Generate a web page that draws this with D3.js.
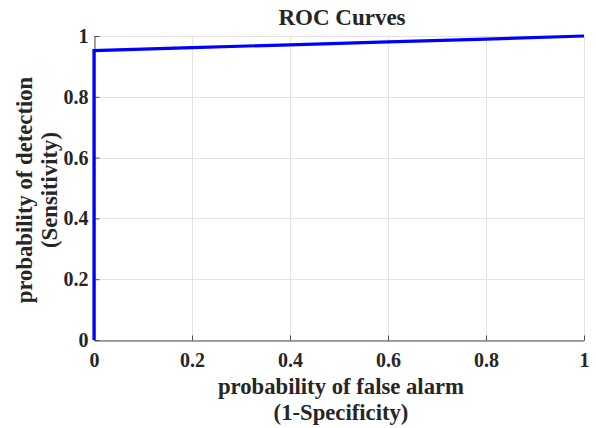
<!DOCTYPE html>
<html>
<head>
<meta charset="utf-8">
<script src="https://cdn.jsdelivr.net/npm/d3@7"></script>
<style>
  body { margin: 0; background: #fff; }
  svg { display: block; }
  text { font-family: "Liberation Serif", "Times New Roman", serif; font-weight: bold; fill: #262626; }
</style>
</head>
<body>
<svg width="596" height="428"></svg>
<script>
"use strict";
// ROC curve points
var fpr = [0, 0, 0.2, 0.4, 0.6, 0.8, 1];
var tpr = [0, 0.952, 0.962, 0.971, 0.981, 0.990, 1];
var xTicks = [0, 0.2, 0.4, 0.6, 0.8, 1];
var yTicks = [0, 0.2, 0.4, 0.6, 0.8, 1];

var svg = d3.select("svg");
var margin = {left: 94, right: 12, top: 36, bottom: 88};
var W = 596, H = 428;

var x = d3.scaleLinear().domain([0, 1]).range([margin.left, W - margin.right]);
var y = d3.scaleLinear().domain([0, 1]).range([H - margin.bottom, margin.top]);

//grid
var grid = svg.append("g").attr("stroke", "#e3e3e3").attr("stroke-width", 1);
grid.selectAll(".gx").data(xTicks).join("line")
  .attr("x1", d => Math.round(x(d)) + 0.5).attr("x2", d => Math.round(x(d)) + 0.5)
  .attr("y1", y(0)).attr("y2", y(1));
grid.selectAll(".gy").data(yTicks).join("line")
  .attr("y1", d => Math.round(y(d)) + 0.5).attr("y2", d => Math.round(y(d)) + 0.5)
  .attr("x1", x(0)).attr("x2", x(1));

//axes
var xAxis = svg.append("g").attr("transform", "translate(0," + (Math.round(y(0)) + 0.5) + ")")
  .call(d3.axisBottom(x).tickValues(xTicks).tickFormat(d3.format("~g")).tickSizeInner(-5).tickSizeOuter(0).tickPadding(12));
var yAxis = svg.append("g").attr("transform", "translate(" + (Math.round(x(0)) + 0.5) + ",0)")
  .call(d3.axisLeft(y).tickValues(yTicks).tickFormat(d3.format("~g")).tickSizeInner(-5).tickSizeOuter(0).tickPadding(6));
[xAxis, yAxis].forEach(function(a){
  a.attr("font-family", null);
  a.select(".domain").attr("stroke", "#4d4d4d");
  a.selectAll(".tick line").attr("stroke", "#4d4d4d");
  a.selectAll("text").attr("font-size", 20).attr("fill", "#262626");
});

//curve
var line = d3.line().x((d, i) => x(fpr[i])).y((d, i) => y(tpr[i]));
svg.append("path").datum(fpr)
  .attr("d", line)
  .attr("fill", "none")
  .attr("stroke", "#0000ff")
  .attr("stroke-width", 3.2)
  .attr("stroke-linejoin", "miter");

//title and labels
svg.append("text").attr("x", 342).attr("y", 25).attr("text-anchor", "middle")
  .attr("font-size", 23).text("ROC Curves");

var xl = svg.append("text").attr("text-anchor", "middle").attr("font-size", 22.7);
xl.append("tspan").attr("x", 341).attr("y", 394).text("probability of false alarm");
xl.append("tspan").attr("x", 341).attr("y", 420).text("(1-Specificity)");

var yl = svg.append("text").attr("text-anchor", "middle").attr("font-size", 22.7)
  .attr("transform", "translate(0,190) rotate(-90)");
yl.append("tspan").attr("x", 0).attr("y", 32).text("probability of detection");
yl.append("tspan").attr("x", 0).attr("y", 57).text("(Sensitivity)");
</script>
</body>
</html>
